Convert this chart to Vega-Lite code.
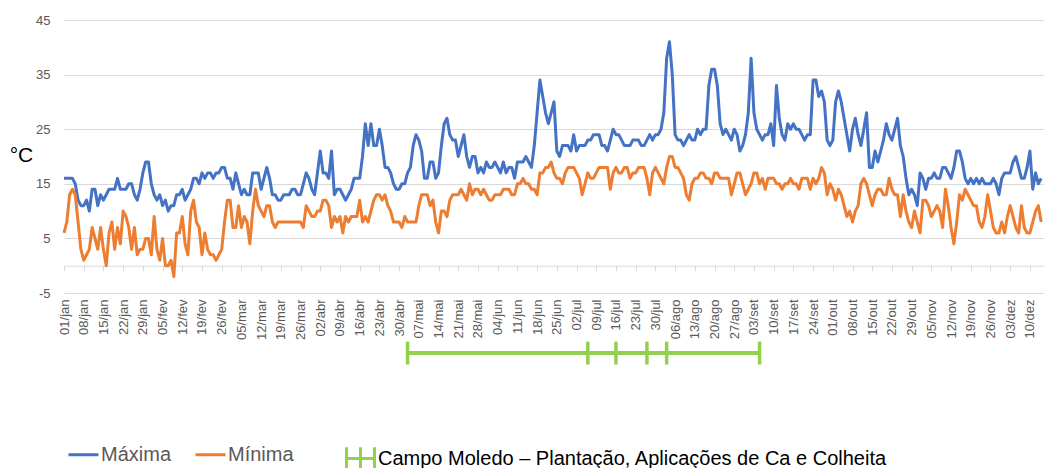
{
  "$schema": "https://vega.github.io/schema/vega-lite/v6.json",
  "width": 980,
  "height": 273,
  "autosize": {"type": "none"},
  "padding": {"left": 64, "top": 20, "right": 0, "bottom": 175},
  "background": "white",
  "config": {"view": {"stroke": null}, "font": "Liberation Sans"},
  "datasets": {
    "temperaturas": [
      {"date":"2019-01-01","Máxima":16,"Mínima":6},{"date":"2019-01-02","Máxima":16,"Mínima":8},{"date":"2019-01-03","Máxima":16,"Mínima":13},{"date":"2019-01-04","Máxima":16,"Mínima":14},{"date":"2019-01-05","Máxima":15,"Mínima":13},{"date":"2019-01-06","Máxima":12,"Mínima":8},{"date":"2019-01-07","Máxima":11,"Mínima":3},{"date":"2019-01-08","Máxima":11,"Mínima":1},{"date":"2019-01-09","Máxima":12,"Mínima":2},{"date":"2019-01-10","Máxima":10,"Mínima":3},
      {"date":"2019-01-11","Máxima":14,"Mínima":7},{"date":"2019-01-12","Máxima":14,"Mínima":5},{"date":"2019-01-13","Máxima":11,"Mínima":3},{"date":"2019-01-14","Máxima":13,"Mínima":7},{"date":"2019-01-15","Máxima":12,"Mínima":3},{"date":"2019-01-16","Máxima":13,"Mínima":0},{"date":"2019-01-17","Máxima":14,"Mínima":6},{"date":"2019-01-18","Máxima":14,"Mínima":8},{"date":"2019-01-19","Máxima":14,"Mínima":3},{"date":"2019-01-20","Máxima":16,"Mínima":7},
      {"date":"2019-01-21","Máxima":14,"Mínima":4},{"date":"2019-01-22","Máxima":14,"Mínima":10},{"date":"2019-01-23","Máxima":14,"Mínima":9},{"date":"2019-01-24","Máxima":15,"Mínima":7},{"date":"2019-01-25","Máxima":15,"Mínima":3},{"date":"2019-01-26","Máxima":13,"Mínima":7},{"date":"2019-01-27","Máxima":12,"Mínima":2},{"date":"2019-01-28","Máxima":14,"Mínima":3},{"date":"2019-01-29","Máxima":17,"Mínima":3},{"date":"2019-01-30","Máxima":19,"Mínima":5},
      {"date":"2019-01-31","Máxima":19,"Mínima":5},
      {"date":"2019-02-01","Máxima":15,"Mínima":2},{"date":"2019-02-02","Máxima":13,"Mínima":9},{"date":"2019-02-03","Máxima":12,"Mínima":3},{"date":"2019-02-04","Máxima":13,"Mínima":1},{"date":"2019-02-05","Máxima":11,"Mínima":5},{"date":"2019-02-06","Máxima":12,"Mínima":0},{"date":"2019-02-07","Máxima":10,"Mínima":0},{"date":"2019-02-08","Máxima":11,"Mínima":1},{"date":"2019-02-09","Máxima":11,"Mínima":-2},
      {"date":"2019-02-10","Máxima":13,"Mínima":6},{"date":"2019-02-11","Máxima":13,"Mínima":6},{"date":"2019-02-12","Máxima":14,"Mínima":9},{"date":"2019-02-13","Máxima":12,"Mínima":4},{"date":"2019-02-14","Máxima":13,"Mínima":2},{"date":"2019-02-15","Máxima":14,"Mínima":10},{"date":"2019-02-16","Máxima":16,"Mínima":12},{"date":"2019-02-17","Máxima":16,"Mínima":8},{"date":"2019-02-18","Máxima":15,"Mínima":7},{"date":"2019-02-19","Máxima":17,"Mínima":2},
      {"date":"2019-02-20","Máxima":16,"Mínima":6},{"date":"2019-02-21","Máxima":17,"Mínima":3},{"date":"2019-02-22","Máxima":17,"Mínima":2},{"date":"2019-02-23","Máxima":16,"Mínima":2},{"date":"2019-02-24","Máxima":17,"Mínima":1},{"date":"2019-02-25","Máxima":17,"Mínima":2},{"date":"2019-02-26","Máxima":18,"Mínima":3},{"date":"2019-02-27","Máxima":18,"Mínima":8},{"date":"2019-02-28","Máxima":16,"Mínima":12},
      {"date":"2019-03-01","Máxima":16,"Mínima":12},{"date":"2019-03-02","Máxima":14,"Mínima":7},{"date":"2019-03-03","Máxima":17,"Mínima":7},{"date":"2019-03-04","Máxima":15,"Mínima":11},{"date":"2019-03-05","Máxima":13,"Mínima":7},{"date":"2019-03-06","Máxima":14,"Mínima":9},{"date":"2019-03-07","Máxima":13,"Mínima":8},{"date":"2019-03-08","Máxima":13,"Mínima":4},{"date":"2019-03-09","Máxima":17,"Mínima":10},{"date":"2019-03-10","Máxima":17,"Mínima":14},
      {"date":"2019-03-11","Máxima":17,"Mínima":11},{"date":"2019-03-12","Máxima":14,"Mínima":10},{"date":"2019-03-13","Máxima":16,"Mínima":9},{"date":"2019-03-14","Máxima":18,"Mínima":11},{"date":"2019-03-15","Máxima":16,"Mínima":11},{"date":"2019-03-16","Máxima":13,"Mínima":8},{"date":"2019-03-17","Máxima":13,"Mínima":7},{"date":"2019-03-18","Máxima":12,"Mínima":8},{"date":"2019-03-19","Máxima":12,"Mínima":8},{"date":"2019-03-20","Máxima":13,"Mínima":8},
      {"date":"2019-03-21","Máxima":13,"Mínima":8},{"date":"2019-03-22","Máxima":13,"Mínima":8},{"date":"2019-03-23","Máxima":14,"Mínima":8},{"date":"2019-03-24","Máxima":14,"Mínima":8},{"date":"2019-03-25","Máxima":13,"Mínima":8},{"date":"2019-03-26","Máxima":13,"Mínima":8},{"date":"2019-03-27","Máxima":15,"Mínima":7},{"date":"2019-03-28","Máxima":17,"Mínima":11},{"date":"2019-03-29","Máxima":16,"Mínima":10},{"date":"2019-03-30","Máxima":14,"Mínima":9},
      {"date":"2019-03-31","Máxima":13,"Mínima":9},
      {"date":"2019-04-01","Máxima":17,"Mínima":10},{"date":"2019-04-02","Máxima":21,"Mínima":10},{"date":"2019-04-03","Máxima":17,"Mínima":12},{"date":"2019-04-04","Máxima":17,"Mínima":12},{"date":"2019-04-05","Máxima":16,"Mínima":11},{"date":"2019-04-06","Máxima":21,"Mínima":7},{"date":"2019-04-07","Máxima":13,"Mínima":9},{"date":"2019-04-08","Máxima":14,"Mínima":8},{"date":"2019-04-09","Máxima":14,"Mínima":9},{"date":"2019-04-10","Máxima":13,"Mínima":6},
      {"date":"2019-04-11","Máxima":12,"Mínima":9},{"date":"2019-04-12","Máxima":13,"Mínima":8},{"date":"2019-04-13","Máxima":14,"Mínima":9},{"date":"2019-04-14","Máxima":16,"Mínima":9},{"date":"2019-04-15","Máxima":16,"Mínima":9},{"date":"2019-04-16","Máxima":16,"Mínima":12},{"date":"2019-04-17","Máxima":20,"Mínima":8},{"date":"2019-04-18","Máxima":26,"Mínima":9},{"date":"2019-04-19","Máxima":22,"Mínima":8},{"date":"2019-04-20","Máxima":26,"Mínima":10},
      {"date":"2019-04-21","Máxima":22,"Mínima":12},{"date":"2019-04-22","Máxima":22,"Mínima":13},{"date":"2019-04-23","Máxima":25,"Mínima":13},{"date":"2019-04-24","Máxima":22,"Mínima":12},{"date":"2019-04-25","Máxima":18,"Mínima":13},{"date":"2019-04-26","Máxima":18,"Mínima":11},{"date":"2019-04-27","Máxima":17,"Mínima":10},{"date":"2019-04-28","Máxima":15,"Mínima":8},{"date":"2019-04-29","Máxima":14,"Mínima":8},{"date":"2019-04-30","Máxima":14,"Mínima":8},
      {"date":"2019-05-01","Máxima":15,"Mínima":7},{"date":"2019-05-02","Máxima":15,"Mínima":9},{"date":"2019-05-03","Máxima":17,"Mínima":8},{"date":"2019-05-04","Máxima":18,"Mínima":8},{"date":"2019-05-05","Máxima":22,"Mínima":8},{"date":"2019-05-06","Máxima":24,"Mínima":8},{"date":"2019-05-07","Máxima":23,"Mínima":11},{"date":"2019-05-08","Máxima":21,"Mínima":13},{"date":"2019-05-09","Máxima":16,"Mínima":13},{"date":"2019-05-10","Máxima":16,"Mínima":13},
      {"date":"2019-05-11","Máxima":19,"Mínima":11},{"date":"2019-05-12","Máxima":19,"Mínima":12},{"date":"2019-05-13","Máxima":16,"Mínima":8},{"date":"2019-05-14","Máxima":17,"Mínima":6},{"date":"2019-05-15","Máxima":22,"Mínima":10},{"date":"2019-05-16","Máxima":26,"Mínima":10},{"date":"2019-05-17","Máxima":27,"Mínima":9},{"date":"2019-05-18","Máxima":24,"Mínima":12},{"date":"2019-05-19","Máxima":23,"Mínima":13},{"date":"2019-05-20","Máxima":23,"Mínima":13},
      {"date":"2019-05-21","Máxima":20,"Mínima":13},{"date":"2019-05-22","Máxima":22,"Mínima":14},{"date":"2019-05-23","Máxima":24,"Mínima":13},{"date":"2019-05-24","Máxima":20,"Mínima":12},{"date":"2019-05-25","Máxima":18,"Mínima":15},{"date":"2019-05-26","Máxima":20,"Mínima":13},{"date":"2019-05-27","Máxima":20,"Mínima":14},{"date":"2019-05-28","Máxima":17,"Mínima":14},{"date":"2019-05-29","Máxima":18,"Mínima":13},{"date":"2019-05-30","Máxima":17,"Mínima":14},
      {"date":"2019-05-31","Máxima":19,"Mínima":13},
      {"date":"2019-06-01","Máxima":18,"Mínima":12},{"date":"2019-06-02","Máxima":18,"Mínima":12},{"date":"2019-06-03","Máxima":19,"Mínima":13},{"date":"2019-06-04","Máxima":18,"Mínima":13},{"date":"2019-06-05","Máxima":17,"Mínima":13},{"date":"2019-06-06","Máxima":19,"Mínima":14},{"date":"2019-06-07","Máxima":17,"Mínima":14},{"date":"2019-06-08","Máxima":18,"Mínima":14},{"date":"2019-06-09","Máxima":18,"Mínima":13},
      {"date":"2019-06-10","Máxima":16,"Mínima":13},{"date":"2019-06-11","Máxima":19,"Mínima":15},{"date":"2019-06-12","Máxima":19,"Mínima":15},{"date":"2019-06-13","Máxima":19,"Mínima":16},{"date":"2019-06-14","Máxima":20,"Mínima":15},{"date":"2019-06-15","Máxima":19,"Mínima":15},{"date":"2019-06-16","Máxima":18,"Mínima":14},{"date":"2019-06-17","Máxima":22,"Mínima":14},{"date":"2019-06-18","Máxima":28,"Mínima":13},{"date":"2019-06-19","Máxima":34,"Mínima":17},
      {"date":"2019-06-20","Máxima":31,"Mínima":17},{"date":"2019-06-21","Máxima":28,"Mínima":18},{"date":"2019-06-22","Máxima":26,"Mínima":18},{"date":"2019-06-23","Máxima":28,"Mínima":19},{"date":"2019-06-24","Máxima":30,"Mínima":17},{"date":"2019-06-25","Máxima":21,"Mínima":16},{"date":"2019-06-26","Máxima":20,"Mínima":16},{"date":"2019-06-27","Máxima":22,"Mínima":15},{"date":"2019-06-28","Máxima":22,"Mínima":17},{"date":"2019-06-29","Máxima":22,"Mínima":18},
      {"date":"2019-06-30","Máxima":21,"Mínima":18},
      {"date":"2019-07-01","Máxima":24,"Mínima":18},{"date":"2019-07-02","Máxima":21,"Mínima":17},{"date":"2019-07-03","Máxima":22,"Mínima":16},{"date":"2019-07-04","Máxima":22,"Mínima":13},{"date":"2019-07-05","Máxima":22,"Mínima":15},{"date":"2019-07-06","Máxima":23,"Mínima":17},{"date":"2019-07-07","Máxima":23,"Mínima":16},{"date":"2019-07-08","Máxima":24,"Mínima":16},{"date":"2019-07-09","Máxima":24,"Mínima":17},
      {"date":"2019-07-10","Máxima":24,"Mínima":18},{"date":"2019-07-11","Máxima":22,"Mínima":18},{"date":"2019-07-12","Máxima":22,"Mínima":18},{"date":"2019-07-13","Máxima":21,"Mínima":18},{"date":"2019-07-14","Máxima":23,"Mínima":14},{"date":"2019-07-15","Máxima":25,"Mínima":17},{"date":"2019-07-16","Máxima":24,"Mínima":18},{"date":"2019-07-17","Máxima":24,"Mínima":17},{"date":"2019-07-18","Máxima":23,"Mínima":17},{"date":"2019-07-19","Máxima":22,"Mínima":18},
      {"date":"2019-07-20","Máxima":22,"Mínima":18},{"date":"2019-07-21","Máxima":22,"Mínima":16},{"date":"2019-07-22","Máxima":23,"Mínima":17},{"date":"2019-07-23","Máxima":23,"Mínima":17},{"date":"2019-07-24","Máxima":23,"Mínima":18},{"date":"2019-07-25","Máxima":22,"Mínima":18},{"date":"2019-07-26","Máxima":22,"Mínima":18},{"date":"2019-07-27","Máxima":23,"Mínima":16},{"date":"2019-07-28","Máxima":24,"Mínima":13},{"date":"2019-07-29","Máxima":23,"Mínima":17},
      {"date":"2019-07-30","Máxima":24,"Mínima":18},{"date":"2019-07-31","Máxima":24,"Mínima":17},
      {"date":"2019-08-01","Máxima":25,"Mínima":16},{"date":"2019-08-02","Máxima":28,"Mínima":15},{"date":"2019-08-03","Máxima":38,"Mínima":18},{"date":"2019-08-04","Máxima":41,"Mínima":20},{"date":"2019-08-05","Máxima":35,"Mínima":20},{"date":"2019-08-06","Máxima":24,"Mínima":18},{"date":"2019-08-07","Máxima":23,"Mínima":18},{"date":"2019-08-08","Máxima":23,"Mínima":17},
      {"date":"2019-08-09","Máxima":22,"Mínima":16},{"date":"2019-08-10","Máxima":23,"Mínima":13},{"date":"2019-08-11","Máxima":24,"Mínima":12},{"date":"2019-08-12","Máxima":23,"Mínima":15},{"date":"2019-08-13","Máxima":23,"Mínima":16},{"date":"2019-08-14","Máxima":25,"Mínima":16},{"date":"2019-08-15","Máxima":24,"Mínima":17},{"date":"2019-08-16","Máxima":25,"Mínima":17},{"date":"2019-08-17","Máxima":25,"Mínima":16},{"date":"2019-08-18","Máxima":33,"Mínima":16},
      {"date":"2019-08-19","Máxima":36,"Mínima":15},{"date":"2019-08-20","Máxima":36,"Mínima":17},{"date":"2019-08-21","Máxima":33,"Mínima":17},{"date":"2019-08-22","Máxima":26,"Mínima":16},{"date":"2019-08-23","Máxima":24,"Mínima":16},{"date":"2019-08-24","Máxima":25,"Mínima":16},{"date":"2019-08-25","Máxima":24,"Mínima":16},{"date":"2019-08-26","Máxima":23,"Mínima":13},{"date":"2019-08-27","Máxima":25,"Mínima":15},{"date":"2019-08-28","Máxima":24,"Mínima":17},
      {"date":"2019-08-29","Máxima":21,"Mínima":17},{"date":"2019-08-30","Máxima":22,"Mínima":15},{"date":"2019-08-31","Máxima":24,"Mínima":13},
      {"date":"2019-09-01","Máxima":28,"Mínima":14},{"date":"2019-09-02","Máxima":38,"Mínima":15},{"date":"2019-09-03","Máxima":28,"Mínima":17},{"date":"2019-09-04","Máxima":25,"Mínima":17},{"date":"2019-09-05","Máxima":24,"Mínima":15},{"date":"2019-09-06","Máxima":23,"Mínima":16},{"date":"2019-09-07","Máxima":24,"Mínima":14},
      {"date":"2019-09-08","Máxima":24,"Mínima":16},{"date":"2019-09-09","Máxima":26,"Mínima":16},{"date":"2019-09-10","Máxima":22,"Mínima":16},{"date":"2019-09-11","Máxima":33,"Mínima":15},{"date":"2019-09-12","Máxima":27,"Mínima":15},{"date":"2019-09-13","Máxima":24,"Mínima":14},{"date":"2019-09-14","Máxima":23,"Mínima":15},{"date":"2019-09-15","Máxima":26,"Mínima":15},{"date":"2019-09-16","Máxima":25,"Mínima":16},{"date":"2019-09-17","Máxima":26,"Mínima":15},
      {"date":"2019-09-18","Máxima":25,"Mínima":15},{"date":"2019-09-19","Máxima":25,"Mínima":14},{"date":"2019-09-20","Máxima":24,"Mínima":16},{"date":"2019-09-21","Máxima":23,"Mínima":16},{"date":"2019-09-22","Máxima":24,"Mínima":16},{"date":"2019-09-23","Máxima":24,"Mínima":14},{"date":"2019-09-24","Máxima":34,"Mínima":16},{"date":"2019-09-25","Máxima":34,"Mínima":15},{"date":"2019-09-26","Máxima":31,"Mínima":16},{"date":"2019-09-27","Máxima":32,"Mínima":18},
      {"date":"2019-09-28","Máxima":30,"Mínima":17},{"date":"2019-09-29","Máxima":23,"Mínima":13},{"date":"2019-09-30","Máxima":22,"Mínima":15},
      {"date":"2019-10-01","Máxima":23,"Mínima":14},{"date":"2019-10-02","Máxima":30,"Mínima":12},{"date":"2019-10-03","Máxima":32,"Mínima":14},{"date":"2019-10-04","Máxima":30,"Mínima":13},{"date":"2019-10-05","Máxima":27,"Mínima":11},{"date":"2019-10-06","Máxima":24,"Mínima":9},{"date":"2019-10-07","Máxima":21,"Mínima":10},
      {"date":"2019-10-08","Máxima":25,"Mínima":8},{"date":"2019-10-09","Máxima":27,"Mínima":10},{"date":"2019-10-10","Máxima":24,"Mínima":11},{"date":"2019-10-11","Máxima":22,"Mínima":15},{"date":"2019-10-12","Máxima":25,"Mínima":16},{"date":"2019-10-13","Máxima":28,"Mínima":15},{"date":"2019-10-14","Máxima":18,"Mínima":13},{"date":"2019-10-15","Máxima":18,"Mínima":11},{"date":"2019-10-16","Máxima":21,"Mínima":13},{"date":"2019-10-17","Máxima":19,"Mínima":14},
      {"date":"2019-10-18","Máxima":21,"Mínima":14},{"date":"2019-10-19","Máxima":23,"Mínima":13},{"date":"2019-10-20","Máxima":26,"Mínima":13},{"date":"2019-10-21","Máxima":24,"Mínima":16},{"date":"2019-10-22","Máxima":23,"Mínima":14},{"date":"2019-10-23","Máxima":25,"Mínima":13},{"date":"2019-10-24","Máxima":27,"Mínima":13},{"date":"2019-10-25","Máxima":22,"Mínima":9},{"date":"2019-10-26","Máxima":20,"Mínima":13},{"date":"2019-10-27","Máxima":16,"Mínima":10},
      {"date":"2019-10-28","Máxima":13,"Mínima":8},{"date":"2019-10-29","Máxima":14,"Mínima":7},{"date":"2019-10-30","Máxima":13,"Mínima":10},{"date":"2019-10-31","Máxima":11,"Mínima":8},
      {"date":"2019-11-01","Máxima":17,"Mínima":6},{"date":"2019-11-02","Máxima":16,"Mínima":12},{"date":"2019-11-03","Máxima":14,"Mínima":12},{"date":"2019-11-04","Máxima":16,"Mínima":11},{"date":"2019-11-05","Máxima":16,"Mínima":9},{"date":"2019-11-06","Máxima":17,"Mínima":10},
      {"date":"2019-11-07","Máxima":16,"Mínima":11},{"date":"2019-11-08","Máxima":16,"Mínima":10},{"date":"2019-11-09","Máxima":18,"Mínima":7},{"date":"2019-11-10","Máxima":18,"Mínima":14},{"date":"2019-11-11","Máxima":17,"Mínima":11},{"date":"2019-11-12","Máxima":16,"Mínima":7},{"date":"2019-11-13","Máxima":18,"Mínima":4},{"date":"2019-11-14","Máxima":21,"Mínima":8},{"date":"2019-11-15","Máxima":21,"Mínima":13},{"date":"2019-11-16","Máxima":19,"Mínima":12},
      {"date":"2019-11-17","Máxima":16,"Mínima":14},{"date":"2019-11-18","Máxima":15,"Mínima":13},{"date":"2019-11-19","Máxima":16,"Mínima":12},{"date":"2019-11-20","Máxima":15,"Mínima":11},{"date":"2019-11-21","Máxima":16,"Mínima":11},{"date":"2019-11-22","Máxima":15,"Mínima":8},{"date":"2019-11-23","Máxima":16,"Mínima":7},{"date":"2019-11-24","Máxima":15,"Mínima":9},{"date":"2019-11-25","Máxima":15,"Mínima":13},{"date":"2019-11-26","Máxima":15,"Mínima":10},
      {"date":"2019-11-27","Máxima":16,"Mínima":7},{"date":"2019-11-28","Máxima":15,"Mínima":6},{"date":"2019-11-29","Máxima":13,"Mínima":6},{"date":"2019-11-30","Máxima":16,"Mínima":8},
      {"date":"2019-12-01","Máxima":17,"Mínima":6},{"date":"2019-12-02","Máxima":17,"Mínima":9},{"date":"2019-12-03","Máxima":17,"Mínima":11},{"date":"2019-12-04","Máxima":19,"Mínima":9},{"date":"2019-12-05","Máxima":20,"Mínima":7},{"date":"2019-12-06","Máxima":18,"Mínima":6},
      {"date":"2019-12-07","Máxima":16,"Mínima":11},{"date":"2019-12-08","Máxima":16,"Mínima":7},{"date":"2019-12-09","Máxima":18,"Mínima":6},{"date":"2019-12-10","Máxima":21,"Mínima":6},{"date":"2019-12-11","Máxima":14,"Mínima":8},{"date":"2019-12-12","Máxima":17,"Mínima":10},{"date":"2019-12-13","Máxima":15,"Mínima":11},{"date":"2019-12-14","Máxima":16,"Mínima":8}
    ],
    "campo": [
      {"date":"2019-05-03","evento":"Plantação"},
      {"date":"2019-07-06","evento":"Aplicação de Ca"},
      {"date":"2019-07-16","evento":"Aplicação de Ca"},
      {"date":"2019-07-27","evento":"Aplicação de Ca"},
      {"date":"2019-08-03","evento":"Aplicação de Ca"},
      {"date":"2019-09-05","evento":"Colheita"}
    ]
  },
  "layer": [
    {
      "data": {"name": "temperaturas"},
      "transform": [{"fold": ["Máxima", "Mínima"], "as": ["serie", "temp"]}],
      "mark": {"type": "line", "strokeWidth": 3, "strokeJoin": "round"},
      "encoding": {
        "x": {
          "field": "date", "type": "temporal",
          "scale": {"type": "utc", "nice": false, "domain": [{"year": 2019, "month": 1, "date": 1, "utc": true}, {"year": 2019, "month": 12, "date": 15, "utc": true}]},
          "axis": {
            "orient": "bottom", "offset": -27.3, "labels": false, "ticks": true, "tickSize": 5, "tickColor": "#d9d9d9", "tickWidth": 1,
            "domain": true, "domainColor": "#d9d9d9", "domainWidth": 1, "grid": false, "title": null,
            "values": [
              {"year":2019,"month":1,"date":1,"utc":true},{"year":2019,"month":1,"date":8,"utc":true},{"year":2019,"month":1,"date":15,"utc":true},{"year":2019,"month":1,"date":22,"utc":true},{"year":2019,"month":1,"date":29,"utc":true},
              {"year":2019,"month":2,"date":5,"utc":true},{"year":2019,"month":2,"date":12,"utc":true},{"year":2019,"month":2,"date":19,"utc":true},{"year":2019,"month":2,"date":26,"utc":true},
              {"year":2019,"month":3,"date":5,"utc":true},{"year":2019,"month":3,"date":12,"utc":true},{"year":2019,"month":3,"date":19,"utc":true},{"year":2019,"month":3,"date":26,"utc":true},
              {"year":2019,"month":4,"date":2,"utc":true},{"year":2019,"month":4,"date":9,"utc":true},{"year":2019,"month":4,"date":16,"utc":true},{"year":2019,"month":4,"date":23,"utc":true},{"year":2019,"month":4,"date":30,"utc":true},
              {"year":2019,"month":5,"date":7,"utc":true},{"year":2019,"month":5,"date":14,"utc":true},{"year":2019,"month":5,"date":21,"utc":true},{"year":2019,"month":5,"date":28,"utc":true},
              {"year":2019,"month":6,"date":4,"utc":true},{"year":2019,"month":6,"date":11,"utc":true},{"year":2019,"month":6,"date":18,"utc":true},{"year":2019,"month":6,"date":25,"utc":true},
              {"year":2019,"month":7,"date":2,"utc":true},{"year":2019,"month":7,"date":9,"utc":true},{"year":2019,"month":7,"date":16,"utc":true},{"year":2019,"month":7,"date":23,"utc":true},{"year":2019,"month":7,"date":30,"utc":true},
              {"year":2019,"month":8,"date":6,"utc":true},{"year":2019,"month":8,"date":13,"utc":true},{"year":2019,"month":8,"date":20,"utc":true},{"year":2019,"month":8,"date":27,"utc":true},
              {"year":2019,"month":9,"date":3,"utc":true},{"year":2019,"month":9,"date":10,"utc":true},{"year":2019,"month":9,"date":17,"utc":true},{"year":2019,"month":9,"date":24,"utc":true},
              {"year":2019,"month":10,"date":1,"utc":true},{"year":2019,"month":10,"date":8,"utc":true},{"year":2019,"month":10,"date":15,"utc":true},{"year":2019,"month":10,"date":22,"utc":true},{"year":2019,"month":10,"date":29,"utc":true},
              {"year":2019,"month":11,"date":5,"utc":true},{"year":2019,"month":11,"date":12,"utc":true},{"year":2019,"month":11,"date":19,"utc":true},{"year":2019,"month":11,"date":26,"utc":true},
              {"year":2019,"month":12,"date":3,"utc":true},{"year":2019,"month":12,"date":10,"utc":true}
            ]
          }
        },
        "y": {
          "field": "temp", "type": "quantitative",
          "scale": {"domain": [-5, 45], "nice": false, "zero": false},
          "axis": {
            "values": [-5, 5, 15, 25, 35, 45], "grid": true, "gridColor": "#d9d9d9", "gridWidth": 1,
            "domain": false, "ticks": false, "labelPadding": 14, "labelColor": "#595959", "labelFontSize": 13,
            "labelExpr": "'' + datum.value",
            "title": "°C", "titleAngle": 0, "titleX": -43, "titleY": 135, "titleAlign": "center", "titleBaseline": "middle",
            "titleFontSize": 21, "titleFontWeight": "normal", "titleColor": "#000000"
          }
        },
        "color": {
          "field": "serie", "type": "nominal",
          "scale": {"domain": ["Máxima", "Mínima"], "range": ["#4472C4", "#ED7D31"]},
          "legend": {
            "orient": "none", "legendX": 3, "legendY": 418, "direction": "horizontal", "title": null,
            "symbolType": "stroke", "symbolSize": 900, "symbolStrokeWidth": 3,
            "labelFontSize": 20, "labelColor": "#595959", "labelOffset": 1, "columnPadding": 17, "labelLimit": 0
          }
        }
      }
    },
    {
      "data": {"name": "campo"},
      "mark": {"type": "rule", "strokeWidth": 4},
      "encoding": {
        "x": {
          "aggregate": "min", "field": "date", "type": "temporal",
          "axis": {
            "orient": "bottom", "labels": true, "ticks": false, "domain": false, "grid": false, "title": null,
            "labelAngle": -90, "labelPadding": 6, "labelFontSize": 13, "labelColor": "#595959", "labelOverlap": false, "labelFlush": false, "labelBound": false,
            "labelExpr": "utcFormat(datum.value, '%d') + '/' + ['jan','fev','mar','abr','mai','jun','jul','ago','set','out','nov','dez'][utcmonth(datum.value)]",
            "values": [
              {"year":2019,"month":1,"date":1,"utc":true},{"year":2019,"month":1,"date":8,"utc":true},{"year":2019,"month":1,"date":15,"utc":true},{"year":2019,"month":1,"date":22,"utc":true},{"year":2019,"month":1,"date":29,"utc":true},
              {"year":2019,"month":2,"date":5,"utc":true},{"year":2019,"month":2,"date":12,"utc":true},{"year":2019,"month":2,"date":19,"utc":true},{"year":2019,"month":2,"date":26,"utc":true},
              {"year":2019,"month":3,"date":5,"utc":true},{"year":2019,"month":3,"date":12,"utc":true},{"year":2019,"month":3,"date":19,"utc":true},{"year":2019,"month":3,"date":26,"utc":true},
              {"year":2019,"month":4,"date":2,"utc":true},{"year":2019,"month":4,"date":9,"utc":true},{"year":2019,"month":4,"date":16,"utc":true},{"year":2019,"month":4,"date":23,"utc":true},{"year":2019,"month":4,"date":30,"utc":true},
              {"year":2019,"month":5,"date":7,"utc":true},{"year":2019,"month":5,"date":14,"utc":true},{"year":2019,"month":5,"date":21,"utc":true},{"year":2019,"month":5,"date":28,"utc":true},
              {"year":2019,"month":6,"date":4,"utc":true},{"year":2019,"month":6,"date":11,"utc":true},{"year":2019,"month":6,"date":18,"utc":true},{"year":2019,"month":6,"date":25,"utc":true},
              {"year":2019,"month":7,"date":2,"utc":true},{"year":2019,"month":7,"date":9,"utc":true},{"year":2019,"month":7,"date":16,"utc":true},{"year":2019,"month":7,"date":23,"utc":true},{"year":2019,"month":7,"date":30,"utc":true},
              {"year":2019,"month":8,"date":6,"utc":true},{"year":2019,"month":8,"date":13,"utc":true},{"year":2019,"month":8,"date":20,"utc":true},{"year":2019,"month":8,"date":27,"utc":true},
              {"year":2019,"month":9,"date":3,"utc":true},{"year":2019,"month":9,"date":10,"utc":true},{"year":2019,"month":9,"date":17,"utc":true},{"year":2019,"month":9,"date":24,"utc":true},
              {"year":2019,"month":10,"date":1,"utc":true},{"year":2019,"month":10,"date":8,"utc":true},{"year":2019,"month":10,"date":15,"utc":true},{"year":2019,"month":10,"date":22,"utc":true},{"year":2019,"month":10,"date":29,"utc":true},
              {"year":2019,"month":11,"date":5,"utc":true},{"year":2019,"month":11,"date":12,"utc":true},{"year":2019,"month":11,"date":19,"utc":true},{"year":2019,"month":11,"date":26,"utc":true},
              {"year":2019,"month":12,"date":3,"utc":true},{"year":2019,"month":12,"date":10,"utc":true}
            ]
          }
        },
        "x2": {"aggregate": "max", "field": "date"},
        "y": {"datum": -16, "type": "quantitative"},
        "color": {
          "datum": "Campo Moledo – Plantação, Aplicações de Ca e Colheita", "type": "nominal",
          "scale": {"range": ["#92D050"]},
          "legend": {
            "orient": "none", "legendX": 281, "legendY": 423, "title": null,
            "symbolType": "M-1,-0.8V0.8M0,-0.8V0.8M1,-0.8V0.8M-1,0H1", "symbolSize": 784, "symbolStrokeWidth": 3,
            "symbolFillColor": "transparent", "symbolStrokeColor": "#92D050",
            "labelFontSize": 20, "labelColor": "#000000", "labelOffset": 2, "labelLimit": 0
          }
        }
      }
    },
    {
      "data": {"name": "campo"},
      "mark": {"type": "rule", "strokeWidth": 3.5, "color": "#92D050"},
      "encoding": {
        "x": {"field": "date", "type": "temporal", "axis": null},
        "y": {"datum": -13.9, "type": "quantitative"},
        "y2": {"datum": -18.1}
      }
    }
  ],
  "resolve": {"scale": {"color": "independent"}, "axis": {"x": "independent"}}
}
